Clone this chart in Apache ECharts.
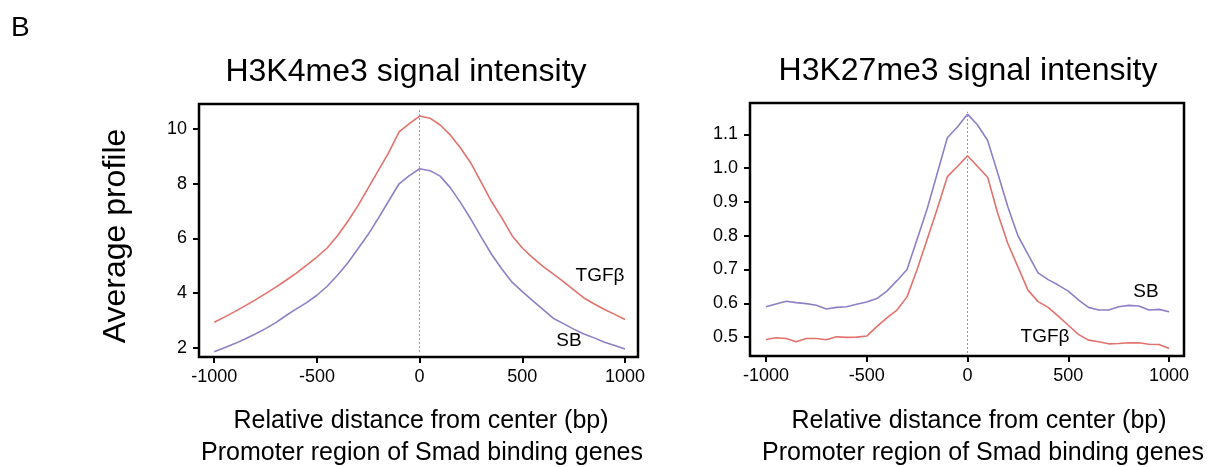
<!DOCTYPE html>
<html>
<head>
<meta charset="utf-8">
<script src="https://cdn.jsdelivr.net/npm/echarts@6/dist/echarts.min.js"></script>
<style>
  html, body { margin: 0; padding: 0; background: #fff; }
  #main { width: 1228px; height: 467px; }
</style>
</head>
<body>
<div id="main"></div>
<script>
// distance from center (bp), 50 bp bins
var positions = [-1000,-950,-900,-850,-800,-750,-700,-650,-600,-550,-500,-450,-400,-350,-300,-250,-200,-150,-100,-50,
  0,50,100,150,200,250,300,350,400,450,500,550,600,650,700,750,800,850,900,950,1000];

// H3K4me3
var k4TGFb = [2.93,3.12,3.32,3.53,3.75,3.98,4.22,4.47,4.73,5.02,5.32,5.65,6.1,6.62,7.2,7.85,8.5,9.15,9.9,10.2,
  10.48,10.4,10.15,9.78,9.3,8.75,8.05,7.35,6.75,6.1,5.65,5.3,4.98,4.7,4.42,4.12,3.82,3.6,3.4,3.22,3.03];
var k4SB = [1.85,2.0,2.15,2.32,2.5,2.7,2.92,3.18,3.42,3.65,3.92,4.25,4.65,5.1,5.62,6.15,6.75,7.38,8.0,8.3,
  8.55,8.48,8.28,7.85,7.3,6.7,6.05,5.42,4.88,4.4,4.05,3.72,3.4,3.08,2.88,2.68,2.5,2.36,2.2,2.08,1.95];

// H3K27me3
var k27SB = [0.590,0.598,0.606,0.602,0.599,0.594,0.583,0.588,0.590,0.597,0.604,0.614,0.636,0.667,0.700,0.790,0.880,0.985,1.090,1.122,
  1.160,1.128,1.082,0.985,0.886,0.800,0.745,0.690,0.670,0.654,0.636,0.610,0.588,0.580,0.580,0.590,0.594,0.592,0.580,0.582,0.575];
var k27TGFb = [0.493,0.498,0.496,0.486,0.496,0.496,0.492,0.501,0.499,0.500,0.503,0.531,0.557,0.580,0.619,0.700,0.790,0.880,0.975,1.005,
  1.037,1.005,0.973,0.866,0.777,0.708,0.639,0.605,0.588,0.562,0.535,0.508,0.491,0.486,0.480,0.481,0.483,0.483,0.479,0.478,0.466];

var xTicks = [-1000, -500, 0, 500, 1000];
var k4Ticks = [2, 4, 6, 8, 10];
var k27Ticks = [0.5, 0.6, 0.7, 0.8, 0.9, 1.0, 1.1];

var FONT = "'Liberation Sans', Arial, sans-serif";
var RED = '#e2726c';
var PURPLE = '#8f7fc6';

function pairs(ys) {
  return positions.map(function (x, i) { return [x, ys[i]]; });
}

function xAxisOf(idx, min, max) {
  return {
    type: 'value', gridIndex: idx, min: min, max: max,
    splitLine: { show: false },
    axisLine: { show: false, onZero: false },
    axisTick: { show: true, customValues: xTicks, length: 6, lineStyle: { color: '#000', width: 2 } },
    axisLabel: {
      customValues: xTicks, color: '#000', fontSize: 18, fontFamily: FONT, margin: 11,
      formatter: function (v) { return String(v); }
    }
  };
}

function yAxisOf(idx, min, max, ticks, digits) {
  return {
    type: 'value', gridIndex: idx, min: min, max: max,
    splitLine: { show: false },
    axisLine: { show: false, onZero: false },
    axisTick: { show: true, customValues: ticks, length: 6, lineStyle: { color: '#000', width: 2 } },
    axisLabel: {
      customValues: ticks, color: '#000', fontSize: 18, fontFamily: FONT, margin: 12,
      formatter: function (v) { return digits ? v.toFixed(digits) : String(v); }
    }
  };
}

function lineOf(idx, name, ys, color, center) {
  var s = {
    name: name, type: 'line', xAxisIndex: idx, yAxisIndex: idx,
    data: pairs(ys), showSymbol: false, smooth: false,
    lineStyle: { color: color, width: 1.6 }
  };
  if (center) {
    s.markLine = {
      silent: true, symbol: 'none', label: { show: false },
      lineStyle: { color: '#999', type: [2, 2], width: 1 },
      data: [[{ coord: [0, center[0]] }, { coord: [0, center[1]] }]]
    };
  }
  return s;
}

var chart = echarts.init(document.getElementById('main'));

var option = {
  animation: false,
  backgroundColor: '#fff',
  grid: [
    { left: 199, top: 104, width: 439, height: 253, show: true, borderColor: '#000', borderWidth: 2.5, backgroundColor: 'transparent' },
    { left: 750, top: 103, width: 434, height: 253, show: true, borderColor: '#000', borderWidth: 2.5, backgroundColor: 'transparent' }
  ],
  xAxis: [xAxisOf(0, -1074, 1063), xAxisOf(1, -1079, 1074)],
  yAxis: [yAxisOf(0, 1.66, 10.92, k4Ticks, 0), yAxisOf(1, 0.444, 1.193, k27Ticks, 1)],
  series: [
    lineOf(0, 'TGFβ', k4TGFb, RED, [1.84, 10.7]),
    lineOf(0, 'SB', k4SB, PURPLE),
    lineOf(1, 'SB', k27SB, PURPLE, [0.453, 1.167]),
    lineOf(1, 'TGFβ', k27TGFb, RED)
  ],
  graphic: [
    { type: 'text', x: 11, y: 28, style: { text: 'B', font: '28px ' + FONT, fill: '#000', textVerticalAlign: 'middle' } },
    { type: 'text', x: 406, y: 72, style: { text: 'H3K4me3 signal intensity', font: '32px ' + FONT, fill: '#000', textAlign: 'center', textVerticalAlign: 'middle' } },
    { type: 'text', x: 968, y: 71, style: { text: 'H3K27me3 signal intensity', font: '32px ' + FONT, fill: '#000', textAlign: 'center', textVerticalAlign: 'middle' } },
    { type: 'text', x: 116, y: 236, rotation: Math.PI / 2, style: { text: 'Average profile', font: '32px ' + FONT, fill: '#000', textAlign: 'center', textVerticalAlign: 'middle' } },
    { type: 'text', x: 421, y: 421, style: { text: 'Relative distance from center (bp)', font: '25px ' + FONT, fill: '#000', textAlign: 'center', textVerticalAlign: 'middle' } },
    { type: 'text', x: 422, y: 453, style: { text: 'Promoter region of Smad binding genes', font: '25px ' + FONT, fill: '#000', textAlign: 'center', textVerticalAlign: 'middle' } },
    { type: 'text', x: 979, y: 421, style: { text: 'Relative distance from center (bp)', font: '25px ' + FONT, fill: '#000', textAlign: 'center', textVerticalAlign: 'middle' } },
    { type: 'text', x: 983, y: 453, style: { text: 'Promoter region of Smad binding genes', font: '25px ' + FONT, fill: '#000', textAlign: 'center', textVerticalAlign: 'middle' } },
    { type: 'text', x: 600, y: 276, style: { text: 'TGFβ', font: '19px ' + FONT, fill: '#000', textAlign: 'center', textVerticalAlign: 'middle' } },
    { type: 'text', x: 569, y: 341, style: { text: 'SB', font: '19px ' + FONT, fill: '#000', textAlign: 'center', textVerticalAlign: 'middle' } },
    { type: 'text', x: 1146, y: 292, style: { text: 'SB', font: '19px ' + FONT, fill: '#000', textAlign: 'center', textVerticalAlign: 'middle' } },
    { type: 'text', x: 1045, y: 337, style: { text: 'TGFβ', font: '19px ' + FONT, fill: '#000', textAlign: 'center', textVerticalAlign: 'middle' } }
  ]
};

chart.setOption(option);
</script>
</body>
</html>
